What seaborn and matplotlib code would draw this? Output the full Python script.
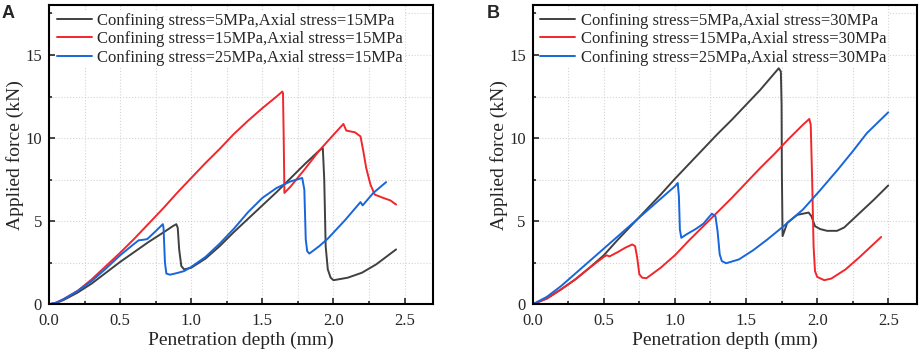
import matplotlib
matplotlib.use('Agg')
import matplotlib.pyplot as plt
from matplotlib.ticker import MultipleLocator
import numpy as np
import pandas as pd
import seaborn as sns

sns.set_theme(style='white')
plt.rcParams['font.family'] = ['Liberation Serif', 'DejaVu Serif']

"""
Values read off the reference figure
"""
# panel A, axial stress = 15 MPa
a5_x = [0, 0.05, 0.1, 0.2, 0.3, 0.4, 0.5, 0.6, 0.7, 0.8, 0.87, 0.895, 0.905, 0.915, 0.93, 0.95,
        1.0, 1.1, 1.2, 1.3, 1.4, 1.5, 1.6, 1.7, 1.8, 1.9, 1.925, 1.935, 1.945, 1.96, 1.98, 2.0,
        2.1, 2.2, 2.3, 2.44]
a5_y = [0, 0.08, 0.25, 0.7, 1.25, 1.9, 2.55, 3.15, 3.75, 4.3, 4.7, 4.82, 4.6, 3.3, 2.3, 2.1,
        2.2, 2.75, 3.5, 4.35, 5.15, 5.95, 6.75, 7.6, 8.45, 9.25, 9.4, 7.5, 3.5, 2.1, 1.6, 1.45,
        1.6, 1.9, 2.4, 3.3]

a15_x = [0, 0.05, 0.1, 0.2, 0.3, 0.4, 0.5, 0.6, 0.7, 0.8, 0.9, 1.0, 1.1, 1.2, 1.3, 1.4, 1.5,
         1.6, 1.64, 1.645, 1.65, 1.655, 1.7, 1.8, 1.9, 2.0, 2.07, 2.09, 2.15, 2.19, 2.21, 2.23,
         2.26, 2.29, 2.35, 2.4, 2.44]
a15_y = [0, 0.1, 0.3, 0.8, 1.5, 2.3, 3.1, 3.95, 4.85, 5.75, 6.7, 7.6, 8.5, 9.35, 10.25, 11.05,
         11.8, 12.5, 12.8, 12.7, 10.0, 6.7, 7.1, 8.15, 9.25, 10.2, 10.85, 10.45, 10.35, 10.1, 9.2,
         8.2, 7.2, 6.6, 6.4, 6.25, 6.0]

a25_x = [0, 0.05, 0.1, 0.2, 0.3, 0.4, 0.5, 0.6, 0.63, 0.66, 0.69, 0.75, 0.8, 0.805, 0.815, 0.825,
         0.85, 0.9, 0.95, 1.0, 1.1, 1.2, 1.3, 1.4, 1.5, 1.6, 1.7, 1.78, 1.795, 1.805, 1.815, 1.83,
         1.9, 1.96, 2.08, 2.19, 2.205, 2.28, 2.37]
a25_y = [0, 0.1, 0.3, 0.8, 1.4, 2.15, 2.95, 3.65, 3.85, 3.88, 3.92, 4.4, 4.82, 4.6, 2.5, 1.85,
         1.78, 1.88, 2.0, 2.25, 2.85, 3.65, 4.55, 5.55, 6.4, 7.0, 7.4, 7.6, 6.9, 3.9, 3.2, 3.05,
         3.5, 3.95, 5.05, 6.15, 5.95, 6.7, 7.35]

# panel B, axial stress = 30 MPa
b5_x = [0, 0.1, 0.2, 0.3, 0.4, 0.5, 0.6, 0.7, 0.8, 0.9, 1.0, 1.1, 1.2, 1.3, 1.4, 1.5, 1.6, 1.7,
        1.73, 1.745, 1.75, 1.752, 1.757, 1.79, 1.86, 1.94, 1.96, 1.985, 2.02, 2.07, 2.14, 2.19,
        2.3, 2.4, 2.5]
b5_y = [0, 0.35, 0.9, 1.5, 2.2, 2.95, 3.9, 4.8, 5.7, 6.6, 7.55, 8.45, 9.35, 10.25, 11.1, 12.0,
        12.9, 13.9, 14.2, 14.0, 12.0, 8.0, 4.1, 4.9, 5.38, 5.52, 5.3, 4.7, 4.53, 4.42, 4.42, 4.62,
        5.5, 6.3, 7.15]

b15_x = [0, 0.1, 0.2, 0.3, 0.4, 0.5, 0.52, 0.54, 0.6, 0.65, 0.7, 0.72, 0.735, 0.75, 0.77, 0.8,
         0.9, 1.0, 1.1, 1.2, 1.3, 1.4, 1.5, 1.6, 1.7, 1.8, 1.9, 1.945, 1.955, 1.965, 1.975, 1.985,
         2.0, 2.05, 2.1, 2.2, 2.3, 2.45]
b15_y = [0, 0.35, 0.9, 1.5, 2.2, 2.85, 2.95, 2.88, 3.15, 3.4, 3.6, 3.5, 2.8, 1.8, 1.6, 1.57,
         2.2, 2.95, 3.85, 4.7, 5.55, 6.4, 7.3, 8.2, 9.05, 9.95, 10.8, 11.15, 10.8, 7.5, 3.5, 2.0,
         1.65, 1.45, 1.55, 2.1, 2.85, 4.05]

b25_x = [0, 0.1, 0.2, 0.3, 0.4, 0.5, 0.6, 0.7, 0.8, 0.9, 1.0, 1.02, 1.028, 1.035, 1.045, 1.08,
         1.15, 1.2, 1.26, 1.285, 1.3, 1.315, 1.33, 1.36, 1.45, 1.55, 1.65, 1.76, 1.9, 2.02, 2.15,
         2.25, 2.35, 2.5]
b25_y = [0, 0.45, 1.1, 1.85, 2.6, 3.35, 4.1, 4.85, 5.6, 6.35, 7.1, 7.3, 6.5, 4.5, 4.0, 4.2,
         4.55, 4.85, 5.45, 5.3, 4.4, 3.0, 2.6, 2.47, 2.7, 3.25, 3.9, 4.67, 5.7, 6.85, 8.15, 9.2,
         10.3, 11.55]

labels_a = ['Confining stress=5MPa,Axial stress=15MPa',
            'Confining stress=15MPa,Axial stress=15MPa',
            'Confining stress=25MPa,Axial stress=15MPa']
labels_b = ['Confining stress=5MPa,Axial stress=30MPa',
            'Confining stress=15MPa,Axial stress=30MPa',
            'Confining stress=25MPa,Axial stress=30MPa']
colors = ['#404040', '#f2262b', '#1766dc']


def make_frame(xs, ys, labels):
    parts = []
    for x, y, lab in zip(xs, ys, labels):
        parts.append(pd.DataFrame({'depth': x, 'force': y, 'case': lab}))
    return pd.concat(parts, ignore_index=True)


df_a = make_frame([a5_x, a15_x, a25_x], [a5_y, a15_y, a25_y], labels_a)
df_b = make_frame([b5_x, b15_x, b25_x], [b5_y, b15_y, b25_y], labels_b)

fig = plt.figure(figsize=(9.2, 3.52), dpi=100)
ax_a = fig.add_axes([0.0533, 0.1355, 0.4174, 0.850])
ax_b = fig.add_axes([0.579, 0.1355, 0.4174, 0.850])

for ax, df, labs, letter, lx in [(ax_a, df_a, labels_a, 'A', 0.002),
                                 (ax_b, df_b, labels_b, 'B', 0.529)]:
    ax.grid(True, which='both', color='#d4d4d4', linestyle=':', linewidth=0.8)
    ax.set_axisbelow(True)
    sns.lineplot(data=df, x='depth', y='force', hue='case', hue_order=labs,
                 palette=colors, estimator=None, sort=False, linewidth=1.4, ax=ax)
    ax.set_xlim(0, 2.7)
    ax.set_ylim(0, 18)
    ax.xaxis.set_major_locator(MultipleLocator(0.5))
    ax.xaxis.set_minor_locator(MultipleLocator(0.25))
    ax.yaxis.set_major_locator(MultipleLocator(5))
    ax.yaxis.set_minor_locator(MultipleLocator(2.5))
    ax.tick_params(which='both', direction='in', bottom=True, left=True, labelsize=12,
                   width=1.2)
    ax.tick_params(axis='x', pad=6)
    ax.tick_params(axis='y', pad=5)
    ax.tick_params(which='major', length=4)
    ax.tick_params(which='minor', length=2.5)
    ax.set_xlabel('Penetration depth (mm)', fontsize=14, labelpad=2)
    ax.set_ylabel('Applied force (kN)', fontsize=14, labelpad=1)
    plt.setp(ax.spines.values(), linewidth=1.5, color='black')
    handles, _ = ax.get_legend_handles_labels()
    leg = ax.legend(handles, labs, loc='upper left', fontsize=12, frameon=True,
                    facecolor='white', edgecolor='none', framealpha=1, handlelength=2.1,
                    labelspacing=0.15, handletextpad=0.35, borderaxespad=0.35, borderpad=0.1)
    # keep the curves visible where they run under the legend box
    leg.set_zorder(1.5)
    fig.text(lx, 0.985, letter, fontsize=13, fontweight='bold', family='Liberation Sans',
             va='top', ha='left')

plt.savefig('out.png', dpi=100)
